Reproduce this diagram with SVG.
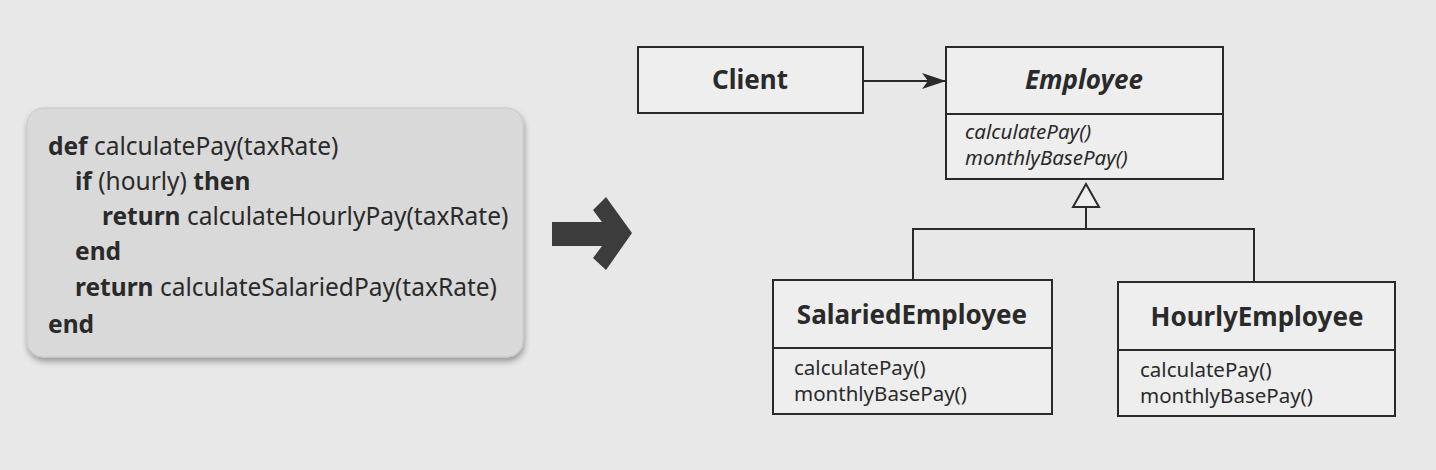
<svg xmlns="http://www.w3.org/2000/svg" width="1436" height="470" viewBox="0 0 1436 470">
<defs>
<style>
.code{font-family:"Noto Sans","Liberation Sans",sans-serif;font-size:24.5px;fill:#2a2a2a}
.b{font-weight:bold}
.box{fill:#eeeeee;stroke:#2a2a2a;stroke-width:2}
.title{font-family:"Noto Sans","Liberation Sans",sans-serif;font-size:26px;font-weight:bold;fill:#2a2a2a;text-anchor:middle}
.m{font-family:"Noto Sans","Liberation Sans",sans-serif;font-size:20.5px;fill:#2a2a2a}
.it{font-style:italic}
.line{fill:none;stroke:#2a2a2a;stroke-width:2}
</style>
<marker id="arr" viewBox="0 0 24 16" refX="23" refY="8" markerWidth="24" markerHeight="16" markerUnits="userSpaceOnUse" orient="auto">
<path d="M0,0 L24,8 L0,16 L6,8 Z" fill="#2a2a2a"/>
</marker>
<filter id="sh" x="-5%" y="-5%" width="115%" height="120%">
<feGaussianBlur in="SourceAlpha" stdDeviation="3"/>
<feOffset dx="1" dy="4"/>
<feComponentTransfer><feFuncA type="linear" slope="0.35"/></feComponentTransfer>
<feMerge><feMergeNode/><feMergeNode in="SourceGraphic"/></feMerge>
</filter>
</defs>
<rect width="1436" height="470" fill="#e8e8e8"/>
<g id="code">
<rect x="27" y="108" width="496" height="249" rx="16" fill="#d9d9d9" stroke="#c8c8c8" filter="url(#sh)"/>
<text class="code" x="48" y="155"><tspan class="b">def</tspan> calculatePay(taxRate)</text>
<text class="code" x="75" y="190"><tspan class="b">if</tspan> (hourly) <tspan class="b">then</tspan></text>
<text class="code" x="102" y="225"><tspan class="b">return</tspan> calculateHourlyPay(taxRate)</text>
<text class="code b" x="75" y="260">end</text>
<text class="code" x="75" y="296"><tspan class="b">return</tspan> calculateSalariedPay(taxRate)</text>
<text class="code b" x="48" y="333">end</text>
</g>
<g id="bigarrow">
<polygon points="552,222 602,222 593,210 606,197 632,233 606,270 593,258 602,246 552,246" fill="#3c3c3c"/>
</g>
<g id="client">
<rect class="box" x="638" y="47" width="225" height="66"/>
<text class="title" x="750" y="89">Client</text>
</g>
<g id="employee">
<rect class="box" x="946" y="47" width="277" height="132"/>
<line class="line" x1="946" y1="114" x2="1223" y2="114"/>
<text class="title it" x="1084" y="89">Employee</text>
<text class="m it" x="965" y="139">calculatePay()</text>
<text class="m it" x="965" y="165">monthlyBasePay()</text>
</g>
<g id="salaried">
<rect class="box" x="773" y="280" width="279" height="134"/>
<line class="line" x1="773" y1="348" x2="1052" y2="348"/>
<text class="title" x="912" y="324">SalariedEmployee</text>
<text class="m" x="794" y="375">calculatePay()</text>
<text class="m" x="794" y="401">monthlyBasePay()</text>
</g>
<g id="hourly">
<rect class="box" x="1118" y="282" width="277" height="134"/>
<line class="line" x1="1118" y1="350" x2="1395" y2="350"/>
<text class="title" x="1257" y="326">HourlyEmployee</text>
<text class="m" x="1140" y="377">calculatePay()</text>
<text class="m" x="1140" y="403">monthlyBasePay()</text>
</g>
<g id="connectors">
<line class="line" x1="863" y1="81" x2="945" y2="81" marker-end="url(#arr)"/>
<polyline class="line" points="913,280 913,229 1254,229 1254,282"/>
<line class="line" x1="1086" y1="229" x2="1086" y2="207"/>
<polygon points="1086,184 1073,207 1099,207" fill="#eeeeee" stroke="#2a2a2a" stroke-width="2"/>
</g>
</svg>
